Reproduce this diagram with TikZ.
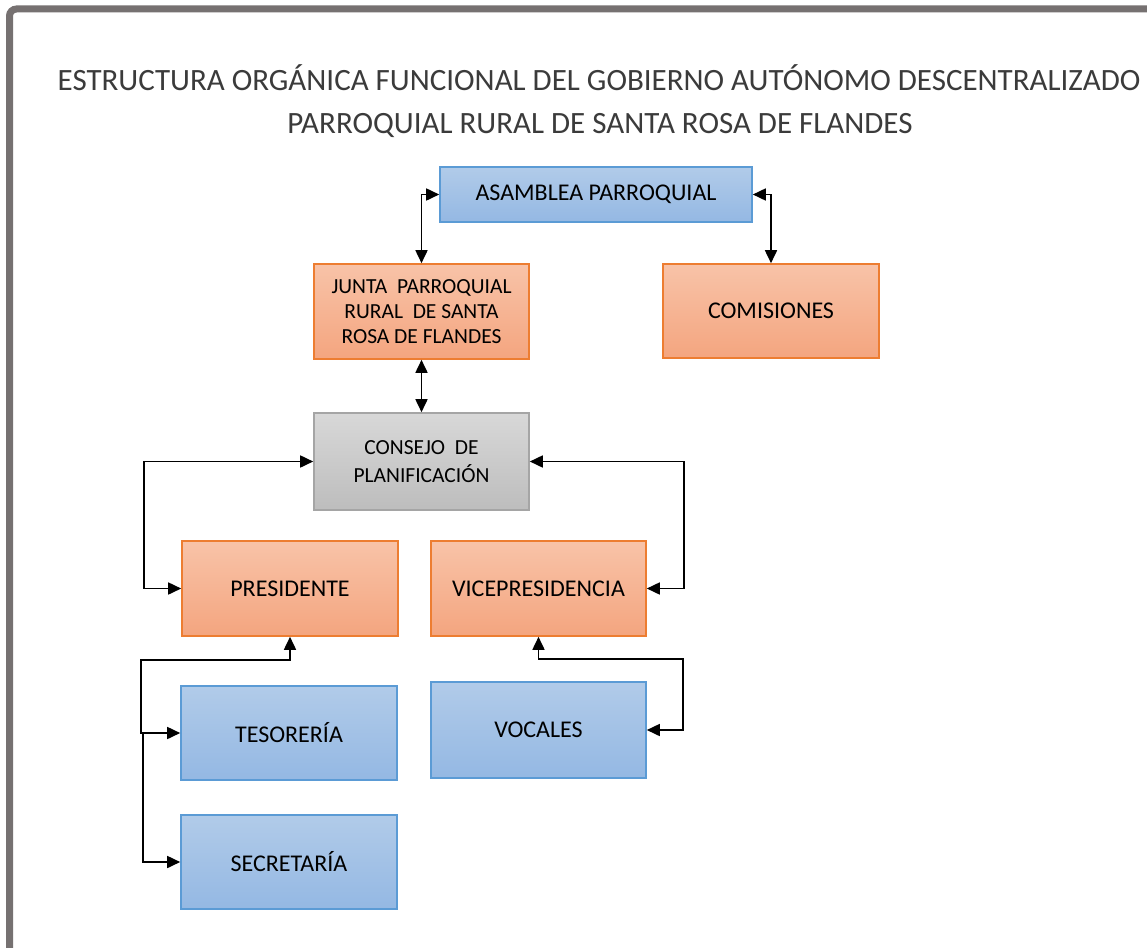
\documentclass[tikz,border=0pt]{standalone}
\usepackage{fontspec}
\setmainfont{Carlito}
\usetikzlibrary{arrows.meta}
\definecolor{frameg}{HTML}{767171}
\definecolor{titlec}{HTML}{3B3B3B}
\definecolor{bluetop}{HTML}{B1CBE9}
\definecolor{bluebot}{HTML}{94B8E3}
\definecolor{blueln}{HTML}{5B9BD5}
\definecolor{ortop}{HTML}{F8C3A8}
\definecolor{orbot}{HTML}{F4A57F}
\definecolor{orln}{HTML}{ED7D31}
\definecolor{grtop}{HTML}{D8D8D8}
\definecolor{grbot}{HTML}{BDBDBD}
\definecolor{grln}{HTML}{A5A5A5}
\tikzset{
  box/.style={rectangle, line width=1.6pt, inner sep=0pt, align=center, text=black},
  bluebox/.style={box, draw=blueln, top color=bluetop, bottom color=bluebot},
  orbox/.style={box, draw=orln, top color=ortop, bottom color=orbot},
  grbox/.style={box, draw=grln, top color=grtop, bottom color=grbot},
  big/.style={font=\fontsize{24}{28}\selectfont},
  conn/.style={line width=1.7pt, black, {Triangle[length=13pt,width=12pt]}-{Triangle[length=13pt,width=12pt]}},
  conn1/.style={line width=1.7pt, black, -{Triangle[length=13pt,width=12pt]}},
  ttl/.style={anchor=base, text=titlec, font=\fontsize{31}{36}\selectfont, inner sep=0pt}
}
\begin{document}
\begin{tikzpicture}[x=1pt,y=-1pt]
\useasboundingbox (0,0) rectangle (1147,947);
\fill[white] (0,0) rectangle (1147,947);
% frame
\draw[frameg, line width=7pt, rounded corners=7pt] (9.5,960) -- (9.5,9) -- (1160,9);
% title
\node[ttl] (t1) at (599,91) {ESTRUCTURA ORGÁNICA FUNCIONAL DEL GOBIERNO AUTÓNOMO DESCENTRALIZADO};
\node[ttl] (t2) at (600,133) {PARROQUIAL RURAL DE SANTA ROSA DE FLANDES};
% boxes
\node[bluebox, big, minimum width=312pt, minimum height=55pt] (asam) at (596,194.5) {ASAMBLEA PARROQUIAL};
\node[orbox, minimum width=215pt, minimum height=95pt, font=\fontsize{21.5}{25}\selectfont] (junta) at (421.5,311.5) {JUNTA~ PARROQUIAL\\RURAL~ DE SANTA\\ROSA DE FLANDES};
\node[orbox, big, minimum width=216pt, minimum height=94pt] (comis) at (771,311) {COMISIONES};
\node[grbox, minimum width=215pt, minimum height=97pt, font=\fontsize{21.5}{28}\selectfont] (consejo) at (421.5,461.5) {CONSEJO~ DE\\PLANIFICACIÓN};
\node[orbox, big, minimum width=216pt, minimum height=95pt] (pres) at (290,588.5) {PRESIDENTE};
\node[orbox, big, minimum width=215pt, minimum height=95pt] (vice) at (538.5,588.5) {VICEPRESIDENCIA};
\node[bluebox, big, minimum width=216pt, minimum height=94pt] (tes) at (289,733) {TESORERÍA};
\node[bluebox, big, minimum width=215pt, minimum height=96pt] (voc) at (538.5,730) {VOCALES};
\node[bluebox, big, minimum width=216pt, minimum height=94pt] (sec) at (289,862) {SECRETARÍA};
% connector corners
\coordinate (pL) at (141,660);
\coordinate (sL) at (143,733);
\coordinate (vR) at (683,659);
\coordinate (cL) at (144,461.5);
\coordinate (cR) at (684,461.5);
% connectors
\draw[conn] (asam.west) -| (junta.north);
\draw[conn] (asam.east) -| (comis.north);
\draw[conn] (junta.south) -- (consejo.north);
\draw[conn] (consejo.west) -- (cL) |- (pres.west);
\draw[conn] (consejo.east) -- (cR) |- (vice.east);
\draw[conn] (pres.south) |- (pL) |- (tes.west);
\draw[conn1] (sL) |- (sec.west);
\draw[conn] (vice.south) |- (vR) |- (voc.east);
\end{tikzpicture}
\end{document}
